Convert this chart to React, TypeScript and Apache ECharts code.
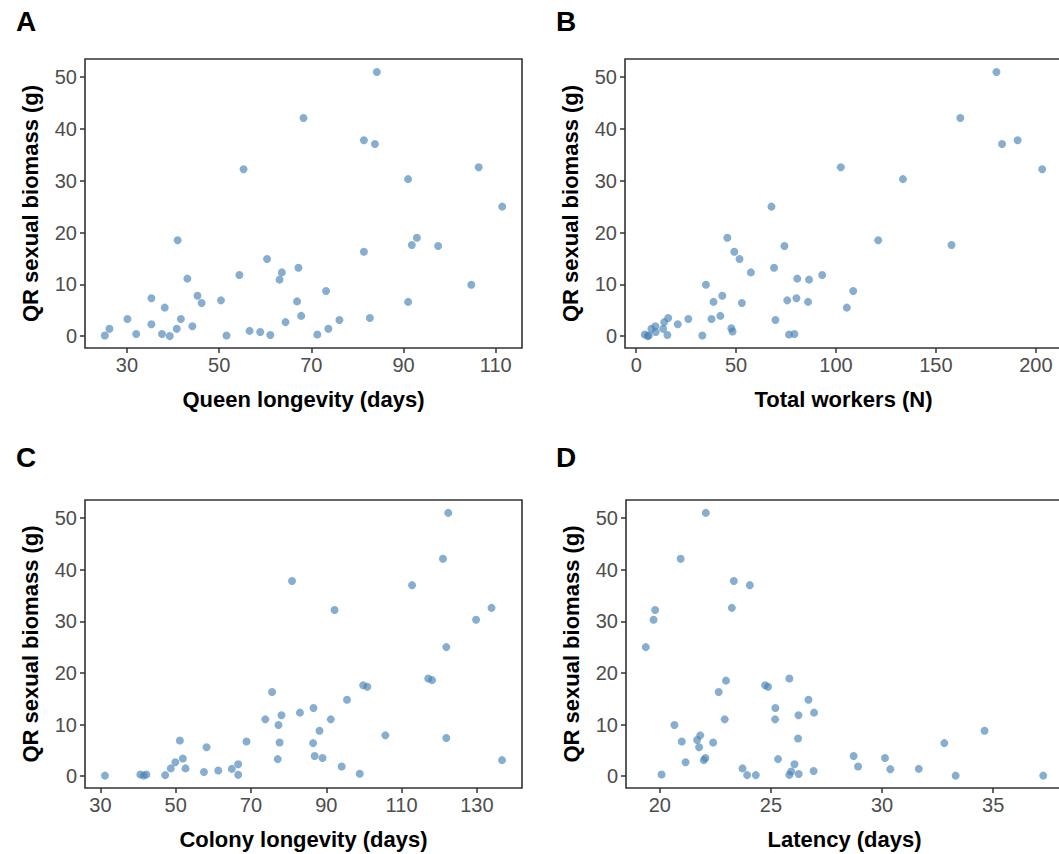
import React, { useEffect, useRef } from "react";
import * as echarts from "echarts";

// Panel A: Queen longevity (days) vs QR sexual biomass (g)
const queenLongevity = [25.2, 26.2, 30.1, 32.0, 35.3, 35.3, 38.2, 37.6, 39.3, 41.0, 40.8, 41.7, 43.1, 44.2, 45.3, 46.2, 50.4, 51.6, 55.3, 54.4, 56.6, 58.9, 61.1, 60.4, 63.1, 63.6, 64.4, 66.9, 67.2, 67.8, 84.2, 68.3, 81.4, 83.8, 91.0, 106.3, 111.4, 92.9, 91.8, 97.5, 81.4, 73.2, 104.7, 91.0, 76.1, 82.7, 73.7, 71.3];
const biomassA = [0.1, 1.4, 3.3, 0.4, 7.3, 2.3, 5.5, 0.4, 0.0, 18.5, 1.4, 3.3, 11.1, 1.9, 7.8, 6.4, 6.9, 0.1, 32.2, 11.8, 1.0, 0.8, 0.2, 14.9, 10.9, 12.3, 2.7, 6.7, 13.2, 3.9, 51.0, 42.1, 37.8, 37.1, 30.3, 32.6, 25.0, 19.0, 17.6, 17.4, 16.3, 8.7, 9.9, 6.6, 3.1, 3.5, 1.4, 0.3];

// Panel B: Total workers (N)
const totalWorkers = [4.3, 5.8, 6.3, 7.6, 9.6, 9.8, 13.5, 14.0, 16.0, 15.6, 20.8, 26.1, 33.1, 34.9, 37.7, 38.7, 42.1, 43.1, 45.6, 47.6, 48.2, 49.1, 51.7, 52.9, 57.4, 67.7, 69.0, 69.7, 74.2, 75.6, 76.5, 79.2, 80.2, 80.6, 86.0, 86.5, 93.1, 180.3, 162.2, 183.1, 190.9, 203.2, 102.4, 133.5, 121.1, 157.8, 108.6, 105.4];
const biomassB = [0.3, 0.0, 0.1, 1.4, 1.9, 0.8, 1.4, 2.7, 3.5, 0.2, 2.3, 3.3, 0.1, 9.9, 3.3, 6.6, 3.9, 7.8, 19.0, 1.5, 0.9, 16.3, 14.9, 6.4, 12.3, 25.0, 13.2, 3.1, 17.4, 6.9, 0.3, 0.4, 7.3, 11.1, 6.6, 10.9, 11.8, 51.0, 42.1, 37.1, 37.8, 32.2, 32.6, 30.3, 18.5, 17.6, 8.7, 5.5];

// Panel C: Colony longevity (days)
const colonyLongevity = [31.2, 40.6, 41.5, 42.2, 47.2, 48.7, 49.9, 51.1, 51.9, 52.6, 57.5, 58.2, 61.3, 64.9, 66.6, 66.6, 68.8, 73.8, 75.6, 77.3, 78.1, 77.6, 77.1, 80.9, 83.0, 122.4, 121.0, 112.8, 133.9, 129.8, 92.2, 121.9, 117.1, 118.1, 99.8, 100.9, 95.5, 86.6, 91.2, 88.2, 86.5, 86.9, 89.0, 105.7, 121.9, 94.1, 98.9, 136.7];
const biomassC = [0.1, 0.3, 0.1, 0.3, 0.2, 1.5, 2.7, 6.9, 3.4, 1.5, 0.8, 5.6, 1.1, 1.4, 2.3, 0.25, 6.7, 11.0, 16.3, 9.9, 11.8, 6.5, 3.3, 37.8, 12.3, 51.0, 42.1, 37.0, 32.6, 30.3, 32.2, 25.0, 18.9, 18.6, 17.6, 17.3, 14.8, 13.2, 11.0, 8.8, 6.4, 3.9, 3.5, 7.9, 7.4, 1.85, 0.45, 3.1];

// Panel D: Latency (days)
const latency = [19.37, 19.72, 19.79, 20.08, 20.66, 20.94, 20.99, 21.16, 21.68, 21.82, 21.77, 21.98, 22.05, 22.07, 22.40, 22.65, 22.92, 22.98, 23.24, 23.33, 23.72, 23.93, 24.05, 24.32, 24.74, 24.87, 25.20, 25.19, 25.32, 25.83, 25.83, 25.91, 26.06, 26.24, 26.22, 26.25, 26.69, 26.94, 26.92, 28.72, 28.92, 30.13, 30.37, 31.65, 32.80, 33.31, 34.61, 37.25];
const biomassD = [25.0, 30.3, 32.2, 0.3, 9.9, 42.1, 6.7, 2.7, 7.0, 7.9, 5.6, 3.1, 3.5, 51.0, 6.5, 16.3, 11.0, 18.5, 32.6, 37.8, 1.5, 0.2, 37.0, 0.2, 17.6, 17.3, 13.2, 11.0, 3.3, 18.9, 0.25, 0.9, 2.3, 11.8, 7.3, 0.4, 14.8, 12.3, 1.0, 3.9, 1.85, 3.5, 1.35, 1.4, 6.4, 0.1, 8.8, 0.1];

const yTicks = [0, 10, 20, 30, 40, 50];
const xTicksA = [30, 50, 70, 90, 110];
const xTicksB = [0, 50, 100, 150, 200];
const xTicksC = [30, 50, 70, 90, 110, 130];
const xTicksD = [20, 25, 30, 35];

const panelLetters = ["A", "B", "C", "D"];
const xTitles = ["Queen longevity (days)", "Total workers (N)", "Colony longevity (days)", "Latency (days)"];
const yTitle = "QR sexual biomass (g)";

const FONT = '"Liberation Sans", Arial, Helvetica, sans-serif';

const zip = (xs: number[], ys: number[]) => xs.map((x, i) => [x, ys[i]]);

export default function App() {
  const ref = useRef<HTMLDivElement>(null);
  useEffect(() => {
    if (!ref.current) return;
    const chart = echarts.init(ref.current, null, { renderer: "svg" });

    const grids = [
      { left: 85, top: 59, width: 437, height: 289 },
      { left: 625, top: 59, width: 437, height: 289 },
      { left: 85, top: 500, width: 437, height: 288 },
      { left: 626, top: 500, width: 437, height: 288 },
    ];
    const xRanges = [
      [20.9, 115.7],
      [-5.6, 213.1],
      [25.9, 142.0],
      [18.48, 38.14],
    ];
    const xTicks = [xTicksA, xTicksB, xTicksC, xTicksD];
    const data = [
      zip(queenLongevity, biomassA),
      zip(totalWorkers, biomassB),
      zip(colonyLongevity, biomassC),
      zip(latency, biomassD),
    ];

    const tickStyle = { color: "#333", width: 1.5 };

    const option: any = {
      animation: false,
      backgroundColor: "#fff",
      grid: grids.map((g) => ({
        ...g,
        show: true,
        borderColor: "#333",
        borderWidth: 1.6,
        backgroundColor: "transparent",
        containLabel: false,
        outerBoundsMode: "none",
      })),
      xAxis: grids.map((_, i) => ({
        gridIndex: i,
        type: "value",
        min: xRanges[i][0],
        max: xRanges[i][1],
        name: xTitles[i],
        nameLocation: "middle",
        nameGap: 40,
        nameTextStyle: { fontFamily: FONT, fontSize: 22, fontWeight: "bold", color: "#000" },
        axisLine: { show: false, onZero: false },
        splitLine: { show: false },
        axisTick: { show: true, customValues: xTicks[i], length: 5, inside: false, lineStyle: tickStyle },
        axisLabel: { customValues: xTicks[i], fontFamily: FONT, fontSize: 20, color: "#4d4d4d", margin: 7 },
      })),
      yAxis: grids.map((_, i) => ({
        gridIndex: i,
        type: "value",
        min: -2.3,
        max: 53.5,
        name: yTitle,
        nameLocation: "middle",
        nameGap: 44,
        nameRotate: 90,
        nameTextStyle: { fontFamily: FONT, fontSize: 22, fontWeight: "bold", color: "#000" },
        axisLine: { show: false, onZero: false },
        splitLine: { show: false },
        axisTick: { show: true, customValues: yTicks, length: 5, inside: false, lineStyle: tickStyle },
        axisLabel: { customValues: yTicks, fontFamily: FONT, fontSize: 20, color: "#4d4d4d", margin: 8 },
      })),
      series: data.map((d, i) => ({
        type: "scatter",
        xAxisIndex: i,
        yAxisIndex: i,
        data: d,
        symbolSize: 8,
        itemStyle: { color: "#4682B4", opacity: 0.65 },
      })),
      graphic: panelLetters.map((t, i) => ({
        type: "text",
        x: i % 2 === 0 ? 26 : 566,
        y: i < 2 ? 21 : 457,
        style: {
          text: t,
          fontFamily: FONT,
          fontSize: 28,
          fontWeight: "bold",
          fill: "#000",
          align: "center",
          verticalAlign: "middle",
        },
      })),
    };
    chart.setOption(option);
    return () => chart.dispose();
  }, []);
  return (
    <div
      ref={ref}
      style={{ position: "absolute", left: 0, top: 0, width: 1059, height: 854 }}
    />
  );
}
